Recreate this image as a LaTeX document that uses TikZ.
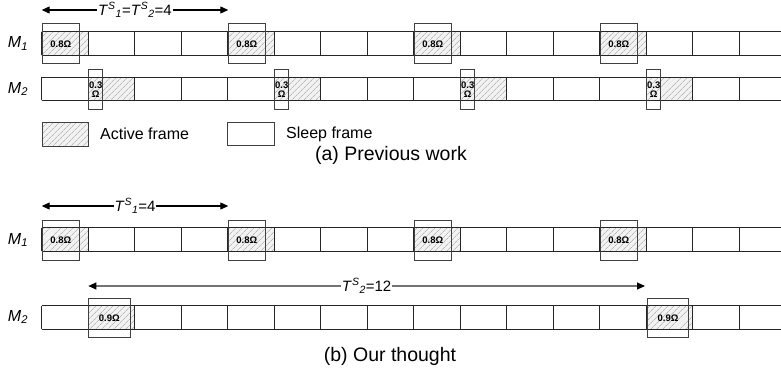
\documentclass[tikz,border=0pt]{standalone}
\usepackage{fontspec}
\setmainfont{Liberation Sans}
\usetikzlibrary{patterns.meta,arrows.meta}
\newcommand{\cx}{41.7}
\newcommand{\cw}{46.5}
\begin{document}
\begin{tikzpicture}[x=1pt,y=-1pt,
  rowline/.style={draw=black!85,line width=1pt},
  hatchcell/.style={preaction={fill=gray!10},pattern={Lines[angle=45,distance=4pt,line width=0.7pt]},pattern color=gray!55},
  hibox/.style={draw=black!75,line width=1pt,inner sep=0pt,anchor=north west},
  val/.style={font=\fontsize{9.5}{9.5}\selectfont\bfseries,align=center},
  mlbl/.style={font=\fontsize{16}{18}\selectfont,inner sep=0pt},
  arr/.style={line width=1.1pt,{Triangle[length=8pt,width=7pt,black]}-{Triangle[length=8pt,width=7pt,black]}},
  tlbl/.style={font=\fontsize{15}{17}\selectfont,fill=white,inner sep=1pt,text=black},
  legtxt/.style={font=\fontsize{16}{18}\selectfont,anchor=west,inner sep=0pt},
  captxt/.style={font=\fontsize{19.5}{22}\selectfont,inner sep=0pt}
]
\useasboundingbox (0,0) rectangle (781,376);

% ---------- (a) ----------
\coordinate (ta1) at (41.7,10);
\coordinate (ta2) at (228.3,10);
\draw[arr] (ta1) -- node[tlbl] (tla) {\textit{T}\textsuperscript{\textit{S}}\textsubscript{\textit{1}}=\textit{T}\textsuperscript{\textit{S}}\textsubscript{\textit{2}}=4} (ta2);

% M1 row (a)
\foreach \k in {0,4,8,12} \fill[hatchcell] (\cx+\k*\cw,31.7) rectangle (\cx+\k*\cw+\cw,55);
\draw[rowline] (\cx,31.7) -- (781,31.7) (\cx,55) -- (781,55);
\foreach \k in {0,...,15} \draw[rowline] (\cx+\k*\cw,31.7) -- (\cx+\k*\cw,55);
\foreach \k/\n in {0/a,4/b,8/c,12/d}
  \node[hibox,minimum width=37.3pt,minimum height=40pt,val] (hA\n) at (\cx+\k*\cw,23.3) {0.8Ω};

% M2 row (a)
\foreach \k in {1,5,9,13} \fill[hatchcell] (\cx+\k*\cw,77.3) rectangle (\cx+\k*\cw+\cw,100);
\draw[rowline] (\cx,77.3) -- (781,77.3) (\cx,100) -- (781,100);
\foreach \k in {0,...,15} \draw[rowline] (\cx+\k*\cw,77.3) -- (\cx+\k*\cw,100);
\foreach \k/\n in {1/a,5/b,9/c,13/d}
  \node[hibox,minimum width=14pt,minimum height=39.4pt,val] (hB\n) at (\cx+\k*\cw,69.3) {0.3\\Ω};

\node[mlbl] (m1a) at (18,43.5) {\textit{M}\textsubscript{\textit{1}}};
\node[mlbl] (m2a) at (18,89) {\textit{M}\textsubscript{\textit{2}}};

% legend
\node[hibox,draw=black!75,minimum width=46.6pt,minimum height=23.7pt,hatchcell] (lgA) at (41.7,122.3) {};
\node[legtxt] (lgAt) at (100,134) {Active frame};
\node[hibox,draw=black!75,minimum width=47.3pt,minimum height=23.3pt] (lgS) at (226.7,121.7) {};
\node[legtxt] (lgSt) at (286,134) {Sleep frame};

\node[captxt] (capa) at (391,155) {(a) Previous work};

% ---------- (b) ----------
\coordinate (tb1) at (41.7,206);
\coordinate (tb2) at (228.3,206);
\draw[arr] (tb1) -- node[tlbl] (tlb) {\textit{T}\textsuperscript{\textit{S}}\textsubscript{\textit{1}}=4} (tb2);

\foreach \k in {0,4,8,12} \fill[hatchcell] (\cx+\k*\cw,227.7) rectangle (\cx+\k*\cw+\cw,251);
\draw[rowline] (\cx,227.7) -- (781,227.7) (\cx,251) -- (781,251);
\foreach \k in {0,...,15} \draw[rowline] (\cx+\k*\cw,227.7) -- (\cx+\k*\cw,251);
\foreach \k/\n in {0/a,4/b,8/c,12/d}
  \node[hibox,minimum width=37.3pt,minimum height=40pt,val] (hC\n) at (\cx+\k*\cw,220) {0.8Ω};

\coordinate (tc1) at (88.3,286);
\coordinate (tc2) at (645,286);
\draw[arr,draw=black!55] (tc1) -- node[tlbl] (tlc) {\textit{T}\textsuperscript{\textit{S}}\textsubscript{\textit{2}}=12} (tc2);

\foreach \k in {1,13} \fill[hatchcell] (\cx+\k*\cw,305.7) rectangle (\cx+\k*\cw+\cw,329);
\draw[rowline] (\cx,305.7) -- (781,305.7) (\cx,329) -- (781,329);
\foreach \k in {0,...,15} \draw[rowline] (\cx+\k*\cw,305.7) -- (\cx+\k*\cw,329);
\node[hibox,minimum width=42.3pt,minimum height=39.6pt,val] (hDa) at (87.7,297.7) {0.9Ω};
\node[hibox,minimum width=41.6pt,minimum height=39.6pt,val] (hDb) at (646.7,297.7) {0.9Ω};

\node[mlbl] (m1b) at (18,240) {\textit{M}\textsubscript{\textit{1}}};
\node[mlbl] (m2b) at (18,317) {\textit{M}\textsubscript{\textit{2}}};

\node[captxt] (capb) at (390,356.7) {(b) Our thought};
\end{tikzpicture}
\end{document}
